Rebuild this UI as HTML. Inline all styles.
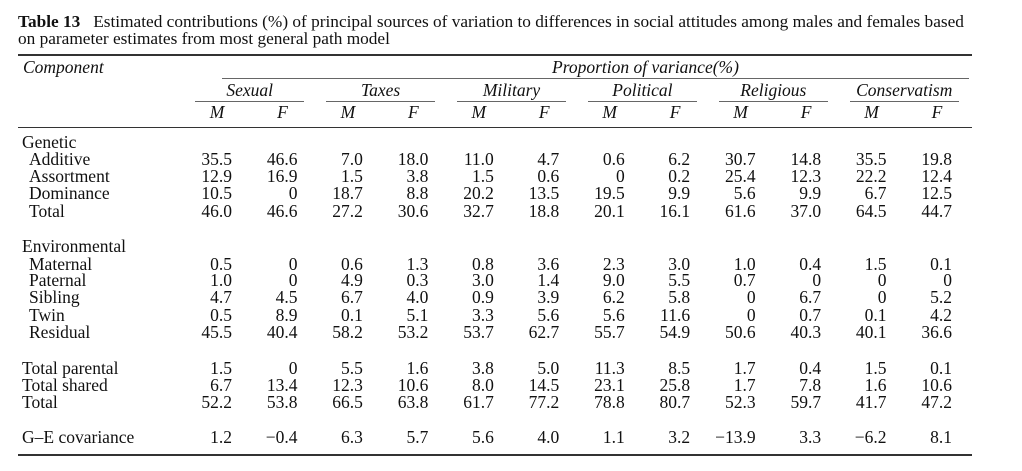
<!DOCTYPE html>
<html><head><meta charset="utf-8"><style>
body{margin:0;width:1022px;height:471px;background:#fff;overflow:hidden;position:relative;font-family:"Liberation Serif",serif;color:#111}
.t{position:absolute;white-space:nowrap;font-size:17.5px;line-height:18px;transform:translateY(-9px)}
.r{position:absolute;background:#333}
.i{font-style:italic}
</style></head><body>
<div class="t" style="left:18px;top:22px;font-size:17.3px"><b>Table 13</b>&nbsp;&nbsp; Estimated contributions (%) of principal sources of variation to differences in social attitudes among males and females based</div>
<div class="t" style="left:18px;top:39px;font-size:17.3px">on parameter estimates from most general path model</div>
<div class="r" style="left:18px;top:54px;width:954px;height:2px"></div>
<div class="t i" style="left:23px;top:67px">Component</div>
<div class="t i" style="left:552px;top:67px">Proportion of variance(%)</div>
<div class="r" style="left:222px;top:78px;width:747px;height:1px;background:#666"></div>
<div class="r" style="left:18px;top:127px;width:954px;height:1px"></div>
<div class="r" style="left:18px;top:454px;width:954px;height:2px"></div>
<div id="tb"></div>
<script>
const groups=["Sexual","Taxes","Military","Political","Religious","Conservatism"];
const rowLabels=["Genetic","Additive","Assortment","Dominance","Total","Environmental","Maternal","Paternal","Sibling","Twin","Residual","Total parental","Total shared","Total","G\u2013E covariance"];
const rowY=[142,159,176,193,211,246,264,280,297,315,332,368,385,402,437];
const indent=[0,1,1,1,1,0,1,1,1,1,1,0,0,0,0];
const values=[
null,
["35.5","46.6","7.0","18.0","11.0","4.7","0.6","6.2","30.7","14.8","35.5","19.8"],
["12.9","16.9","1.5","3.8","1.5","0.6","0","0.2","25.4","12.3","22.2","12.4"],
["10.5","0","18.7","8.8","20.2","13.5","19.5","9.9","5.6","9.9","6.7","12.5"],
["46.0","46.6","27.2","30.6","32.7","18.8","20.1","16.1","61.6","37.0","64.5","44.7"],
null,
["0.5","0","0.6","1.3","0.8","3.6","2.3","3.0","1.0","0.4","1.5","0.1"],
["1.0","0","4.9","0.3","3.0","1.4","9.0","5.5","0.7","0","0","0"],
["4.7","4.5","6.7","4.0","0.9","3.9","6.2","5.8","0","6.7","0","5.2"],
["0.5","8.9","0.1","5.1","3.3","5.6","5.6","11.6","0","0.7","0.1","4.2"],
["45.5","40.4","58.2","53.2","53.7","62.7","55.7","54.9","50.6","40.3","40.1","36.6"],
["1.5","0","5.5","1.6","3.8","5.0","11.3","8.5","1.7","0.4","1.5","0.1"],
["6.7","13.4","12.3","10.6","8.0","14.5","23.1","25.8","1.7","7.8","1.6","10.6"],
["52.2","53.8","66.5","63.8","61.7","77.2","78.8","80.7","52.3","59.7","41.7","47.2"],
["1.2","\u22120.4","6.3","5.7","5.6","4.0","1.1","3.2","\u221213.9","3.3","\u22126.2","8.1"]
];
const tb=document.getElementById('tb');
function colRight(c){return 232+c*65.45;}
function mk(cls,txt,style){const d=document.createElement('div');d.className='t '+cls;d.textContent=txt;d.style.cssText=style;tb.appendChild(d);return d;}
groups.forEach((g,gi)=>{
  const l=colRight(gi*2)-37, r=colRight(gi*2+1)+7;
  const h=mk('i',g,'left:'+((l+r)/2)+'px;top:90px;transform:translate(-50%,-9px)');
  
  
  const u=document.createElement('div');u.className='r';u.style.cssText='left:'+l+'px;top:101px;width:'+(r-l)+'px;height:1px;background:#666';
  
  
  tb.appendChild(u);
  ['M','F'].forEach((s,si)=>{
    const e=mk('i',s,'left:'+(colRight(gi*2+si)-15)+'px;top:112px;transform:translate(-50%,-9px)');
    
    
  });
});
rowLabels.forEach((lab,ri)=>{
  const e=mk('',lab,'left:'+(indent[ri]?29:22)+'px;top:'+rowY[ri]+'px');
  
  
  const v=values[ri]; if(!v) return;
  v.forEach((val,ci)=>{
    const c=mk('',val,'right:'+(1022-colRight(ci))+'px;top:'+rowY[ri]+'px');
    
    
  });
});
</script>
</body></html>
